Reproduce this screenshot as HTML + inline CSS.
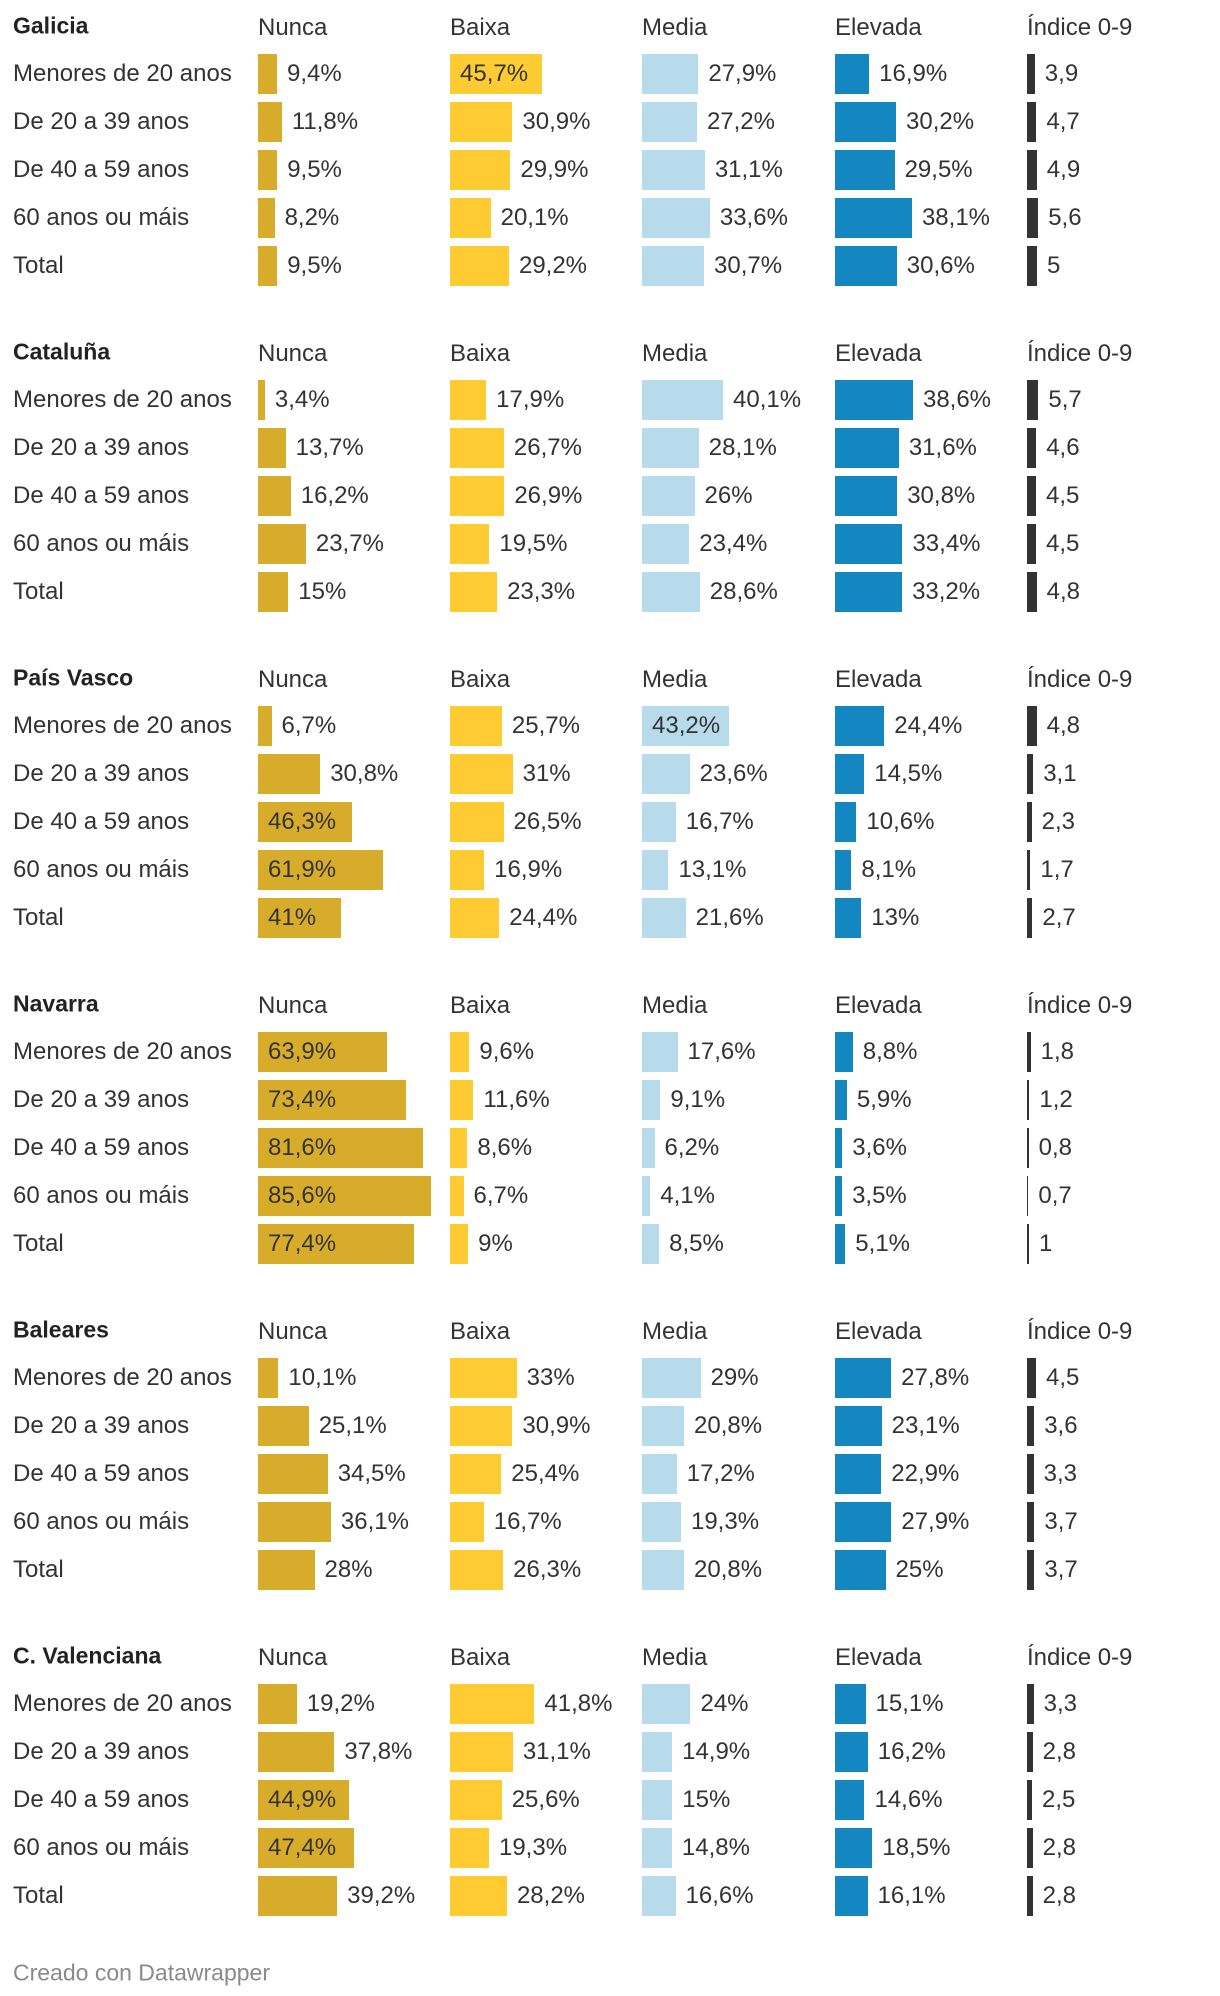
<!DOCTYPE html>
<html><head><meta charset="utf-8">
<style>
body{margin:0;background:#fff;width:1220px;height:1996px;position:relative;overflow:hidden;font-family:"Liberation Sans",sans-serif;color:#333}
.t{position:absolute;white-space:nowrap;line-height:1;transform:translateY(-50%)}
.b{position:absolute}
</style></head>
<body>
<div id="root"></div>
<div class="t" style="left:13px;top:1973px;font-size:23px;color:#8a8a8a">Creado con Datawrapper</div>
<script>
const regions = ["Galicia","Cataluña","País Vasco","Navarra","Baleares","C. Valenciana"];
const ageGroups = ["Menores de 20 anos","De 20 a 39 anos","De 40 a 59 anos","60 anos ou máis","Total"];
const columns = ["Nunca","Baixa","Media","Elevada","Índice 0-9"];
const nunca = [[9.4,11.8,9.5,8.2,9.5],[3.4,13.7,16.2,23.7,15],[6.7,30.8,46.3,61.9,41],[63.9,73.4,81.6,85.6,77.4],[10.1,25.1,34.5,36.1,28],[19.2,37.8,44.9,47.4,39.2]];
const baixa = [[45.7,30.9,29.9,20.1,29.2],[17.9,26.7,26.9,19.5,23.3],[25.7,31,26.5,16.9,24.4],[9.6,11.6,8.6,6.7,9],[33,30.9,25.4,16.7,26.3],[41.8,31.1,25.6,19.3,28.2]];
const media = [[27.9,27.2,31.1,33.6,30.7],[40.1,28.1,26,23.4,28.6],[43.2,23.6,16.7,13.1,21.6],[17.6,9.1,6.2,4.1,8.5],[29,20.8,17.2,19.3,20.8],[24,14.9,15,14.8,16.6]];
const elevada = [[16.9,30.2,29.5,38.1,30.6],[38.6,31.6,30.8,33.4,33.2],[24.4,14.5,10.6,8.1,13],[8.8,5.9,3.6,3.5,5.1],[27.8,23.1,22.9,27.9,25],[15.1,16.2,14.6,18.5,16.1]];
const indice = [[3.9,4.7,4.9,5.6,5],[5.7,4.6,4.5,4.5,4.8],[4.8,3.1,2.3,1.7,2.7],[1.8,1.2,0.8,0.7,1],[4.5,3.6,3.3,3.7,3.7],[3.3,2.8,2.5,2.8,2.8]];

const series=[nunca,baixa,media,elevada,indice];
const colors=["#d8ac2b","#fecb33","#b7dbeb","#1487c1","#333333"];
const colX=[258,450,642,835,1027];
const pctScale=v=>v*2.02;
const idxScale=v=>v*2.0;
const secY=s=>26+s*326;
const rowY=(s,r)=>74+s*326+r*48;
const fmt=(v,pct)=>String(v).replace('.',',')+(pct?'%':'');
const root=document.getElementById('root');
function txt(x,y,s,size,extra){const d=document.createElement('div');d.className='t';d.style.left=x+'px';d.style.top=y+'px';d.style.fontSize=size+'px';if(extra)Object.assign(d.style,extra);d.textContent=s;root.appendChild(d);return d;}
regions.forEach((reg,s)=>{
  const t=txt(13,secY(s),reg,23,{fontWeight:'bold',color:'#222'});
  
  
  columns.forEach((c,ci)=>{
    const h=txt(colX[ci],secY(s)+2,c,24,{color:'#333'});
    
    
  });
  ageGroups.forEach((ag,r)=>{
    const y=rowY(s,r);
    const l=txt(13,y,ag,24);
    
    
    series.forEach((ser,ci)=>{
      const v=ser[s][r];
      const pct=ci<4;
      const w=pct?pctScale(v):idxScale(v);
      const b=document.createElement('div');
      b.className='b';
      b.style.left=colX[ci]+'px';b.style.top=(y-20)+'px';b.style.width=w+'px';b.style.height='40px';b.style.background=colors[ci];
      
      
      root.appendChild(b);
      const inside=pct&&(v>42.5||v===41);
      const lab=txt(inside?colX[ci]+10:colX[ci]+w+10,y,fmt(v,pct),24);
      
      
    });
  });
});
</script>
</body></html>
